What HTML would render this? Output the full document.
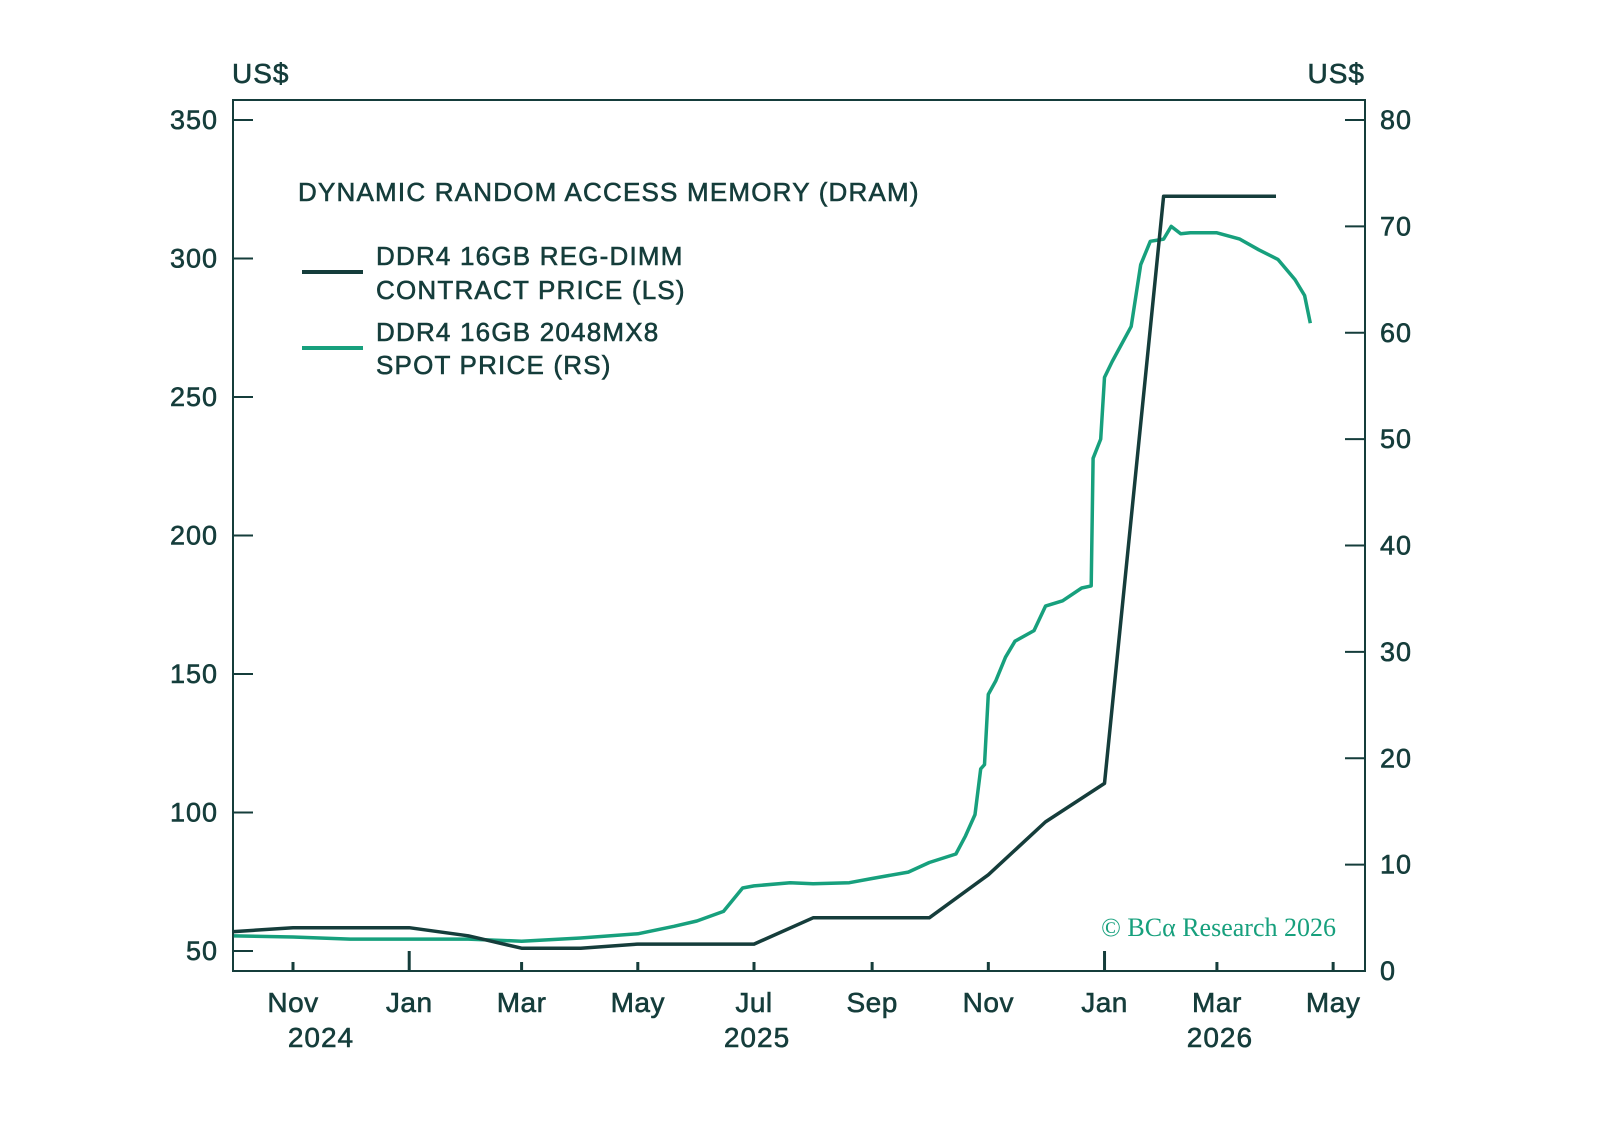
<!DOCTYPE html>
<html><head><meta charset="utf-8"><style>
html,body{margin:0;padding:0;background:#fff;}
svg{display:block;font-family:"Liberation Sans",sans-serif;}
</style></head><body>
<svg id="chart" width="1597" height="1144" viewBox="0 0 1597 1144"></svg>
<script>
const contractDates = ["2024-10-01","2024-11-01","2025-01-01","2025-02-01","2025-03-01","2025-04-01","2025-05-01","2025-07-01","2025-08-01","2025-10-01","2025-11-01","2025-12-01","2026-01-01","2026-02-01","2026-04-01"];
const contractValues = [57,58.4,58.4,55.5,51,51,52.5,52.5,62,62,77.5,96.6,110.5,322.5,322.5];
const spotDates = ["2024-10-01","2024-11-01","2024-12-01","2025-01-01","2025-02-01","2025-03-01","2025-04-01","2025-05-01","2025-05-20","2025-06-01","2025-06-15","2025-06-25","2025-07-01","2025-07-20","2025-08-01","2025-08-20","2025-09-01","2025-09-20","2025-10-01","2025-10-15","2025-10-20","2025-10-25","2025-10-28","2025-10-30","2025-11-01","2025-11-05","2025-11-10","2025-11-15","2025-11-25","2025-12-01","2025-12-10","2025-12-20","2025-12-25","2025-12-26","2025-12-30","2026-01-01","2026-01-05","2026-01-15","2026-01-20","2026-01-25","2026-02-01","2026-02-05","2026-02-10","2026-02-15","2026-03-01","2026-03-13","2026-03-23","2026-04-02","2026-04-11","2026-04-16","2026-04-19"];
const spotValues = [3.3,3.2,3.0,3.0,3.0,2.8,3.1,3.5,4.2,4.7,5.6,7.8,8.0,8.3,8.2,8.3,8.7,9.3,10.2,11.0,12.7,14.7,19,19.4,26,27.3,29.5,31,32,34.3,34.8,36,36.2,48.2,50,55.8,57.3,60.6,66.4,68.6,68.8,70.0,69.3,69.4,69.4,68.8,67.8,66.9,65,63.5,60.9];
const leftTicks = [50,100,150,200,250,300,350];
const rightTicks = [0,10,20,30,40,50,60,70,80];
const monthTicks = ["2024-11-01","2025-01-01","2025-03-01","2025-05-01","2025-07-01","2025-09-01","2025-11-01","2026-01-01","2026-03-01","2026-05-01"];
const monthLabels = ["Nov","Jan","Mar","May","Jul","Sep","Nov","Jan","Mar","May"];
const yearLabels = ["2024","2025","2026"];
const yearTickIdx = [0,4,8];

const svg = document.getElementById('chart');
const NS = 'http://www.w3.org/2000/svg';
const DARK = '#153d3b', GREEN = '#17a07d';
const L = 233, R = 1365, T = 100, B = 971;
const day0 = Date.UTC(2024,10,1);
function days(s){const p=s.split('-');return (Date.UTC(+p[0],+p[1]-1,+p[2])-day0)/86400000;}
function xs(s){return 293 + days(s)*1.905;}
function yl(v){return 951 - (v-50)*(831/300);}
function yr(v){return 971 - v*(851/80);}
function el(tag, attrs, parent){const e=document.createElementNS(NS,tag);for(const k in attrs)e.setAttribute(k,attrs[k]);(parent||svg).appendChild(e);return e;}
function txt(s, attrs){const e=el('text',attrs);e.textContent=s;return e;}
const BOLD = {stroke:DARK,'stroke-width':0.6};

const frame = el('rect',{x:L,y:T,width:R-L,height:B-T,fill:'none',stroke:DARK,'stroke-width':2});



leftTicks.forEach(v=>{
  const y=yl(v);
  const t=el('line',{x1:L,x2:L+20,y1:y,y2:y,stroke:DARK,'stroke-width':2});
  
  
  const lb=txt(String(v),Object.assign({x:218,y:y+9,'text-anchor':'end','font-size':27,fill:DARK,'letter-spacing':1},BOLD));
  
  
});
rightTicks.forEach(v=>{
  const y=yr(v);
  const t=el('line',{x1:R-20,x2:R,y1:y,y2:y,stroke:DARK,'stroke-width':2});
  
  
  const lb=txt(String(v),Object.assign({x:1380,y:y+9,'text-anchor':'start','font-size':27,fill:DARK,'letter-spacing':1},BOLD));
  
  
});
monthTicks.forEach((d,i)=>{
  const x=xs(d);
  const long = monthLabels[i]==='Jan';
  const t=el('line',{x1:x,x2:x,y1:B,y2:B-(long?20:9),stroke:DARK,'stroke-width':3});
  
  
  const lb=txt(monthLabels[i],Object.assign({x:x,y:1012,'text-anchor':'middle','font-size':28,fill:DARK,'letter-spacing':0.5},BOLD));
  
  
});
yearTickIdx.forEach((idx,i)=>{
  const x=xs(monthTicks[idx])+ (i===0?28:3);
  const lb=txt(yearLabels[i],Object.assign({x:x,y:1047,'text-anchor':'middle','font-size':28,fill:DARK,'letter-spacing':1},BOLD));
  
  
});

const sp = el('polyline',{points:spotDates.map((d,i)=>xs(d).toFixed(1)+','+yr(spotValues[i]).toFixed(1)).join(' '),fill:'none',stroke:GREEN,'stroke-width':3.5,'stroke-linejoin':'round'});


const cp = el('polyline',{points:contractDates.map((d,i)=>xs(d).toFixed(1)+','+yl(contractValues[i]).toFixed(1)).join(' '),fill:'none',stroke:DARK,'stroke-width':3.5,'stroke-linejoin':'round'});



let e;
e=txt('US$',Object.assign({x:232,y:83,'font-size':28,fill:DARK,'letter-spacing':1},BOLD));


e=txt('US$',Object.assign({x:1365,y:83,'text-anchor':'end','font-size':28,fill:DARK,'letter-spacing':1},BOLD));


e=txt('DYNAMIC RANDOM ACCESS MEMORY (DRAM)',Object.assign({x:298,y:201,'font-size':26,fill:DARK,'letter-spacing':1.2},BOLD));


e=el('line',{x1:302,x2:363,y1:272,y2:272,stroke:DARK,'stroke-width':4});


e=txt('DDR4 16GB REG-DIMM',Object.assign({x:376,y:265,'font-size':26,fill:DARK,'letter-spacing':1.2},BOLD));


e=txt('CONTRACT PRICE (LS)',Object.assign({x:376,y:299,'font-size':26,fill:DARK,'letter-spacing':1.2},BOLD));


e=el('line',{x1:302,x2:363,y1:348,y2:348,stroke:GREEN,'stroke-width':4});


e=txt('DDR4 16GB 2048MX8',Object.assign({x:376,y:341,'font-size':26,fill:DARK,'letter-spacing':1.2},BOLD));


e=txt('SPOT PRICE (RS)',Object.assign({x:376,y:374,'font-size':26,fill:DARK,'letter-spacing':1.2},BOLD));


e=txt('© BCα Research 2026',{x:1336,y:936,'text-anchor':'end','font-size':26,fill:GREEN,'font-family':'"Liberation Serif",serif'});


</script>
</body></html>
